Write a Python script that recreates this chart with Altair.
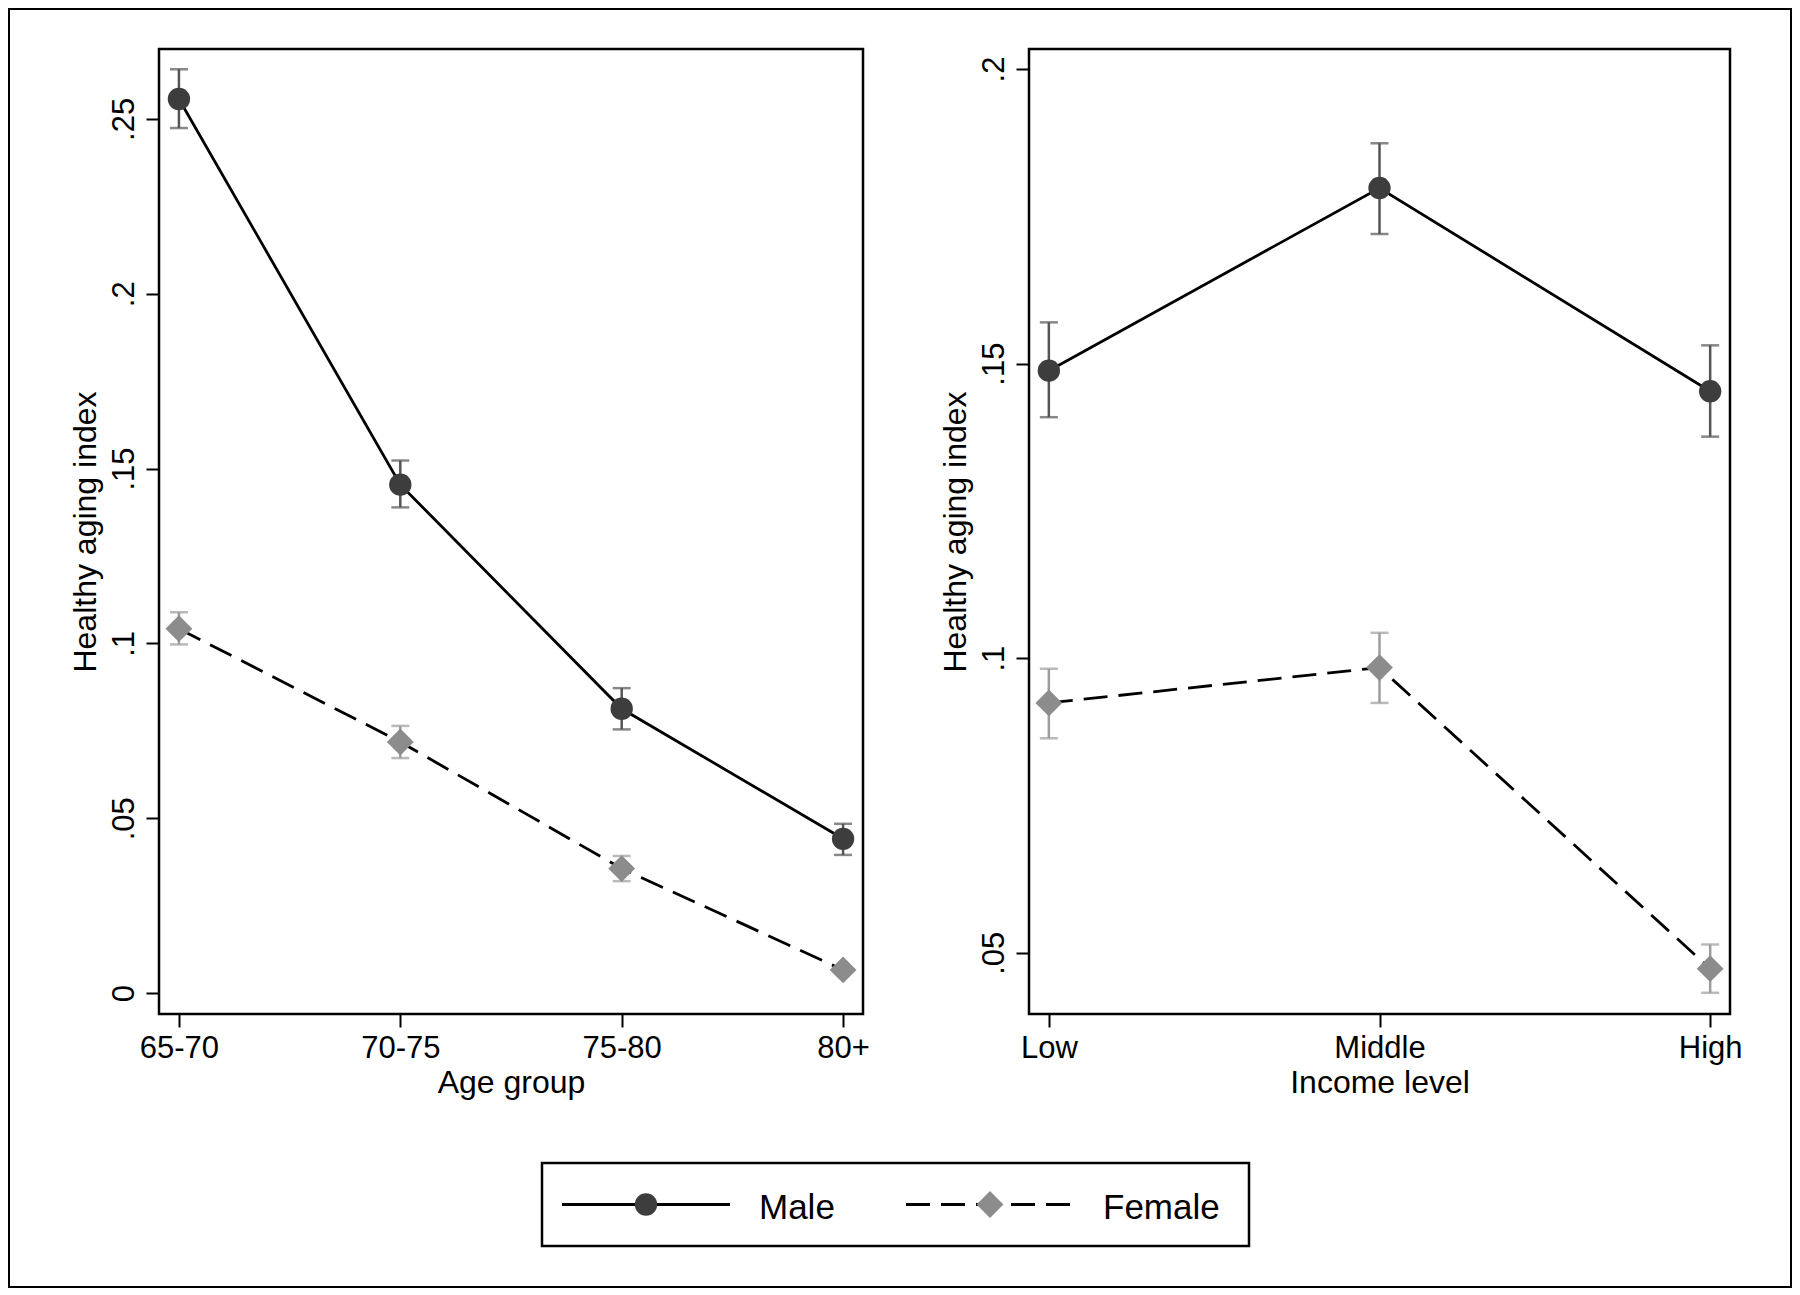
import altair as alt
import pandas as pd

# ---------------- data ----------------
series = ["Male", "Female"]

age_groups = ["65-70", "70-75", "75-80", "80+"]
male_age = [0.2557, 0.1454, 0.0813, 0.0441]
male_age_lo = [0.2474, 0.1389, 0.0754, 0.0395]
male_age_hi = [0.2642, 0.1523, 0.0872, 0.0484]
female_age = [0.1042, 0.0718, 0.0356, 0.0066]
female_age_lo = [0.0997, 0.0672, 0.0320, 0.0060]
female_age_hi = [0.1089, 0.0764, 0.0392, 0.0072]

income_levels = ["Low", "Middle", "High"]
male_inc = [0.1488, 0.1798, 0.1453]
male_inc_lo = [0.1409, 0.1720, 0.1376]
male_inc_hi = [0.1570, 0.1874, 0.1531]
female_inc = [0.0924, 0.0984, 0.0473]
female_inc_lo = [0.0864, 0.0924, 0.0432]
female_inc_hi = [0.0982, 0.1043, 0.0514]

age_ticks = [0, 0.05, 0.1, 0.15, 0.2, 0.25]
inc_ticks = [0.05, 0.1, 0.15, 0.2]

FONT = "Liberation Sans"


def make_df(cats, m, mlo, mhi, f, flo, fhi):
    rows = []
    for c, v, lo, hi in zip(cats, m, mlo, mhi):
        rows.append({"group": c, "series": "Male", "value": v, "lo": lo, "hi": hi})
    for c, v, lo, hi in zip(cats, f, flo, fhi):
        rows.append({"group": c, "series": "Female", "value": v, "lo": lo, "hi": hi})
    return pd.DataFrame(rows)


LABEL_EXPR = "datum.value == 0 ? '0' : replace(format(datum.value, '.2~f'), '0.', '.')"

shape_scale = alt.Scale(domain=series, range=["circle", "diamond"])
fill_scale = alt.Scale(domain=series, range=["#3d3d3d", "#8c8c8c"])
size_scale = alt.Scale(domain=series, range=[500, 720])
bar_scale = alt.Scale(domain=series, range=["#555555", "#9c9c9c"])
LW = 2.8


def panel(df, cats, pad, domain, ticks, xtitle, width):
    x = alt.X(
        "group:N", sort=cats,
        scale=alt.Scale(type="point", padding=pad),
        axis=alt.Axis(title=xtitle, labelAngle=0, tickSize=13, labelPadding=6,
                      titlePadding=4, domain=False, grid=False),
    )
    yscale = alt.Scale(domain=domain, nice=False, zero=False)
    yaxis = alt.Axis(title="Healthy aging index", values=ticks, labelExpr=LABEL_EXPR,
                     labelAngle=270, labelAlign="center", labelBaseline="bottom",
                     tickSize=13, labelPadding=6, titlePadding=6, domain=False, grid=False)
    base = alt.Chart(df)
    female_line = base.transform_filter(alt.datum.series == "Female").mark_line(
        color="black", strokeWidth=LW, strokeDash=[24, 11]
    ).encode(x=x, y=alt.Y("value:Q", scale=yscale, axis=yaxis))
    male_line = base.transform_filter(alt.datum.series == "Male").mark_line(
        color="black", strokeWidth=LW
    ).encode(x=x, y=alt.Y("value:Q", scale=yscale, axis=yaxis))
    col = alt.Color("series:N", scale=bar_scale, legend=None)
    bars = base.mark_rule(strokeWidth=2.5).encode(
        x=x, y=alt.Y("lo:Q", scale=yscale, axis=yaxis), y2="hi:Q", color=col
    )
    caps_lo = base.mark_tick(orient="horizontal", size=18, thickness=2.5).encode(
        x=x, y=alt.Y("lo:Q", scale=yscale, axis=yaxis), color=col
    )
    caps_hi = base.mark_tick(orient="horizontal", size=18, thickness=2.5).encode(
        x=x, y=alt.Y("hi:Q", scale=yscale, axis=yaxis), color=col
    )
    points = base.mark_point(filled=True, opacity=1, strokeWidth=0).encode(
        x=x, y=alt.Y("value:Q", scale=yscale, axis=yaxis),
        shape=alt.Shape("series:N", scale=shape_scale, legend=None),
        fill=alt.Fill("series:N", scale=fill_scale, legend=None),
        size=alt.Size("series:N", scale=size_scale, legend=None),
    )
    return alt.layer(bars, caps_lo, caps_hi, female_line, male_line, points).properties(
        width=width, height=965
    )


age_df = make_df(age_groups, male_age, male_age_lo, male_age_hi,
                 female_age, female_age_lo, female_age_hi)
inc_df = make_df(income_levels, male_inc, male_inc_lo, male_inc_hi,
                 female_inc, female_inc_lo, female_inc_hi)

left = panel(age_df, age_groups, 0.09, [-0.006, 0.27], age_ticks, "Age group", 704)
right = panel(inc_df, income_levels, 0.06, [0.0396, 0.2034], inc_ticks, "Income level", 701)

# ---------------- legend box ----------------
leg_df = pd.DataFrame({"series": series})
lx = alt.X("series:N", sort=series,
           scale=alt.Scale(type="point", range=[104, 448], padding=0), axis=None)
leg_rule = alt.Chart(leg_df).mark_rule(
    color="black", strokeWidth=LW, xOffset=-84, x2Offset=84
).encode(
    x=lx, x2="series:N",
    strokeDash=alt.StrokeDash("series:N", scale=alt.Scale(domain=series, range=[[1, 0], [24, 11]]),
                              legend=None),
)
leg_pts = alt.Chart(leg_df).mark_point(filled=True, opacity=1, strokeWidth=0).encode(
    x=lx,
    shape=alt.Shape("series:N", scale=shape_scale, legend=None),
    fill=alt.Fill("series:N", scale=fill_scale, legend=None),
    size=alt.Size("series:N", scale=size_scale, legend=None),
)
leg_txt = alt.Chart(leg_df).mark_text(
    align="left", baseline="middle", dx=113, dy=3, fontSize=35, font=FONT, color="black"
).encode(x=lx, text="series:N")
legend_box = alt.layer(leg_rule, leg_pts, leg_txt).properties(width=707, height=83)

# invisible spacer that pushes the legend box to the middle
spacer = alt.Chart(leg_df).mark_point(opacity=0).properties(
    width=381, height=83, view=alt.ViewBackground(strokeOpacity=0)
)

chart = alt.vconcat(
    alt.hconcat(left, right, spacing=66),
    alt.hconcat(spacer, legend_box, spacing=0),
    spacing=61,
).properties(
    padding=0
).configure_view(
    stroke="black", strokeWidth=2.5
).configure_axis(
    labelFont=FONT, titleFont=FONT, labelFontSize=31, titleFontSize=32,
    titleFontWeight="normal", labelColor="black", titleColor="black",
    tickColor="black", tickWidth=2,
)

frame_patch = [
    {
        "op": "add",
        "path": "/marks/-",
        "value": {
            "type": "rect",
            "encode": {
                "enter": {
                    "x": {"value": -150},
                    "y": {"value": -40},
                    "width": {"value": 1782},
                    "height": {"value": 1278},
                    "fill": {"value": "transparent"},
                    "stroke": {"value": "black"},
                    "strokeWidth": {"value": 2},
                }
            },
        },
    }
]

chart.save("out.html", embed_options={"renderer": "svg", "actions": False, "patch": frame_patch})
